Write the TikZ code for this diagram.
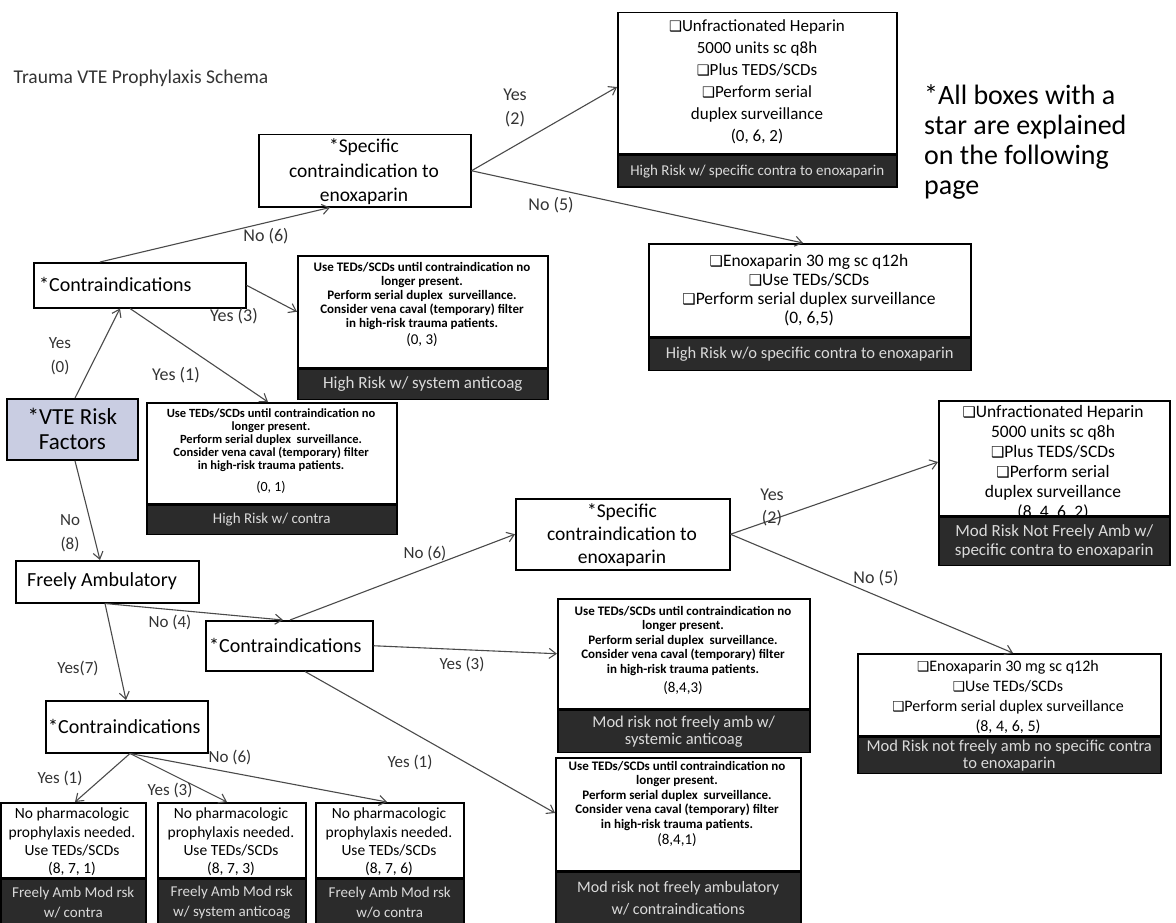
\documentclass[tikz,border=0pt]{standalone}
\usepackage{fontspec}
\setmainfont{Carlito}
\newfontfamily\symfont{DejaVu Sans}
\usetikzlibrary{arrows.meta,calc}
\definecolor{bandgray}{HTML}{2B2B2B}
\definecolor{bandtext}{HTML}{DADADA}
\definecolor{linegray}{HTML}{4A4A4A}
\definecolor{labelgray}{HTML}{333333}
\definecolor{vtefill}{HTML}{C9CDE2}
\newcommand{\cbx}{{\symfont\scalebox{0.85}{❑}}}
\tikzset{
  fs/.style args={#1/#2}{font=\fontsize{#1}{#2}\selectfont},
  panel/.style={draw=black, line width=1.5pt, fill=white, inner sep=0pt, anchor=north west},
  band/.style={draw=black, line width=1.5pt, fill=bandgray, text=bandtext, inner sep=0pt,
               align=center, anchor=north west},
  txt/.style={inner sep=0pt, align=center},
  bold/.style={txt, font=\bfseries\fontsize{13}{14}\selectfont},
  conn/.style={draw=linegray, line width=1.1pt,
               -{Straight Barb[length=7pt,width=10pt,line width=1.1pt]}},
  lbl/.style={txt, fs=17/24, text=labelgray},
}
\begin{document}
\begin{tikzpicture}[x=1pt,y=-1pt]
\useasboundingbox (0,0) rectangle (1176,923);

% heading and footnote
\node[txt, fs=19.5/23, text=labelgray] (title) at (141,78) {Trauma VTE Prophylaxis Schema};
\node[txt, fs=28/30, align=left, anchor=north west] (note) at (924,84)
  {*All boxes with a\\star are explained\\on the following\\page};

% ---------- high-risk branch ----------
\node[draw=black, line width=1.8pt, fill=vtefill, minimum width=131, minimum height=61,
      anchor=north west, inner sep=0pt, align=center, fs=23/25] (vte) at (6,398) {*VTE Risk\\Factors};

\node[panel, minimum width=212, minimum height=45] (contraA) at (33,262) {};
\node[txt, anchor=west, fs=20/22] (contraAt) at (39,284) {*Contraindications};

\node[panel, minimum width=212, minimum height=72] (specA) at (258,134) {};
\node[txt, fs=19.5/24.5] (specAt) at (364,172) {*Specific\\contraindication to\\enoxaparin};

\node[panel, minimum width=279, minimum height=141] (hrA) at (617,12) {};
\node[txt, fs=17/22] (hrAt) at (757,82)
  {\cbx Unfractionated Heparin\\5000 units sc q8h\\\cbx Plus TEDS/SCDs\\\cbx Perform serial\\duplex surveillance\\(0, 6, 2)};
\node[band, fs=15/17, minimum width=279, minimum height=32] (hrAb) at (hrA.south west)
  {High Risk w/ specific contra to enoxaparin};

\node[panel, minimum width=322, minimum height=93] (hrB) at (648,243) {};
\node[txt, fs=17.5/19] (hrBt) at (809,290)
  {\cbx Enoxaparin 30 mg sc q12h\\\cbx Use TEDs/SCDs\\\cbx Perform serial duplex surveillance\\(0, 6,5)};
\node[band, fs=16.5/18, minimum width=322, minimum height=32] (hrBb) at (hrB.south west)
  {High Risk w/o specific contra to enoxaparin};

\node[panel, minimum width=250, minimum height=112] (hrC) at (297,255) {};
\node[bold] (hrCt) at (422,296)
  {Use TEDs/SCDs until contraindication no\\longer present.\\Perform serial duplex\ \ surveillance.\\Consider vena caval (temporary) filter\\in high-risk trauma patients.};
\node[txt, fs=15/16] (hrCn) at (422,340) {(0, 3)};
\node[band, fs=17/18, minimum width=250, minimum height=30] (hrCb) at (hrC.south west)
  {High Risk w/ system anticoag};

\node[panel, minimum width=250, minimum height=101] (hrD) at (146,402) {};
\node[bold, font=\bfseries\fontsize{12.5}{13}\selectfont] (hrDt) at (271,440)
  {Use TEDs/SCDs until contraindication no\\longer present.\\Perform serial duplex\ \ surveillance.\\Consider vena caval (temporary) filter\\in high-risk trauma patients.};
\node[txt, fs=14/15] (hrDn) at (271,487) {(0, 1)};
\node[band, fs=15/17, minimum width=250, minimum height=29] (hrDb) at (hrD.south west)
  {High Risk w/ contra};

% ---------- moderate risk, not freely ambulatory ----------
\node[panel, minimum width=183, minimum height=42] (freely) at (15,560) {};
\node[txt, anchor=west, fs=20/22] (freelyt) at (27,581) {Freely Ambulatory};

\node[panel, minimum width=167, minimum height=50] (contraB) at (205,620) {};
\node[txt, anchor=west, fs=20/22] (contraBt) at (209,645) {*Contraindications};

\node[panel, minimum width=214, minimum height=71] (specB) at (515,498) {};
\node[txt, fs=19.5/23] (specBt) at (622,535) {*Specific\\contraindication to\\enoxaparin};

\node[panel, minimum width=231, minimum height=115] (mrA) at (938,400) {};
\node[txt, fs=17.5/20] (mrAt) at (1053,463)
  {\cbx Unfractionated Heparin\\5000 units sc q8h\\\cbx Plus TEDS/SCDs\\\cbx Perform serial\\duplex surveillance\\(8, 4, 6, 2)};
\node[band, fs=17/19, minimum width=231, minimum height=48] (mrAb) at (mrA.south west)
  {Mod Risk Not Freely Amb w/\\specific contra to enoxaparin};

\node[panel, minimum width=303, minimum height=82] (mrB) at (857,653) {};
\node[txt, fs=16/20.3] (mrBt) at (1008,697)
  {\cbx Enoxaparin 30 mg sc q12h\\\cbx Use TEDs/SCDs\\\cbx Perform serial duplex surveillance\\(8, 4, 6, 5)};
\node[band, fs=16.5/17, minimum width=303, minimum height=36] (mrBb) at (mrB.south west)
  {Mod Risk not freely amb no specific contra\\to enoxaparin};

\node[panel, minimum width=252, minimum height=110] (mrC) at (557,598) {};
\node[bold, font=\bfseries\fontsize{13}{14.5}\selectfont] (mrCt) at (683,641)
  {Use TEDs/SCDs until contraindication no\\longer present.\\Perform serial duplex\ \ surveillance.\\Consider vena caval (temporary) filter\\in high-risk trauma patients.};
\node[txt, fs=15/16] (mrCn) at (683,688) {(8,4,3)};
\node[band, fs=16.5/17, minimum width=252, minimum height=42] (mrCb) at (mrC.south west)
  {Mod risk not freely amb w/\\systemic anticoag};

\node[panel, minimum width=245, minimum height=113] (mrD) at (555,757) {};
\node[bold, font=\bfseries\fontsize{13}{14.5}\selectfont] (mrDt) at (677,796)
  {Use TEDs/SCDs until contraindication no\\longer present.\\Perform serial duplex\ \ surveillance.\\Consider vena caval (temporary) filter\\in high-risk trauma patients.};
\node[txt, fs=15/16] (mrDn) at (677,840) {(8,4,1)};
\node[band, fs=16/22, minimum width=245, minimum height=53] (mrDb) at (mrD.south west)
  {Mod risk not freely ambulatory\\w/ contraindications};

% ---------- freely ambulatory ----------
\node[panel, minimum width=162, minimum height=52] (contraC) at (45,700) {};
\node[txt, anchor=west, fs=20/22] (contraCt) at (48,726) {*Contraindications};

\node[panel, minimum width=145, minimum height=75] (faA) at (0,802) {};
\node[txt, fs=15.5/18.3] (faAt) at (72,842) {No pharmacologic\\prophylaxis needed.\\Use TEDs/SCDs\\(8, 7, 1)};
\node[band, fs=15/20, minimum width=145, minimum height=46] (faAb) at (faA.south west) {Freely Amb Mod rsk\\w/ contra};

\node[panel, minimum width=148, minimum height=75] (faB) at (157,802) {};
\node[txt, fs=15.5/18.3] (faBt) at (231,842) {No pharmacologic\\prophylaxis needed.\\Use TEDs/SCDs\\(8, 7, 3)};
\node[band, fs=15/20, minimum width=148, minimum height=46] (faBb) at (faB.south west) {Freely Amb Mod rsk\\w/ system anticoag};

\node[panel, minimum width=148, minimum height=75] (faC) at (315,802) {};
\node[txt, fs=15.5/18.3] (faCt) at (389,842) {No pharmacologic\\prophylaxis needed.\\Use TEDs/SCDs\\(8, 7, 6)};
\node[band, fs=15/20, minimum width=148, minimum height=46] (faCb) at (faC.south west) {Freely Amb Mod rsk\\w/o contra};

% ---------- connectors ----------
\draw[conn] ($(vte.north west)+(69,0)$) -- ($(contraA.south west)+(87,0)$);
\draw[conn] ($(vte.south west)+(69,0)$) -- ($(freely.north west)+(85,0)$);
\draw[conn] ($(contraA.north west)+(67,0)$) -- ($(specA.south west)+(72,0)$);
\draw[conn] (contraA.east) -- (hrC.west);
\draw[conn] ($(contraA.south west)+(97,0)$) -- ($(hrD.north west)+(122,0)$);
\draw[conn] (specA.east) -- ($(hrA.north west)+(0,75)$);
\draw[conn] (specA.east) -- ($(hrB.north west)+(155,0)$);

\draw[conn] ($(freely.south west)+(90,0)$) -- ($(contraB.north west)+(78,0)$);
\draw[conn] ($(freely.south west)+(90,0)$) -- ($(contraC.north west)+(81,0)$);
\draw[conn] ($(contraB.north west)+(85,0)$) -- (specB.west);
\draw[conn] (contraB.east) -- (mrC.west);
\draw[conn] ($(contraB.south west)+(100,0)$) -- ($(mrD.north west)+(0,56)$);
\draw[conn] (specB.east) -- ($(mrA.north west)+(0,62)$);
\draw[conn] (specB.east) -- ($(mrB.north west)+(156,0)$);

\draw[conn] ($(contraC.south west)+(85,0)$) -- ($(faA.north west)+(75,0)$);
\draw[conn] ($(contraC.south west)+(85,0)$) -- ($(faB.north west)+(70,0)$);
\draw[conn] ($(contraC.south west)+(85,0)$) -- ($(faC.north west)+(72,0)$);

% ---------- branch labels ----------
\node[lbl] (lYes0) at (60,356) {Yes\\(0)};
\node[lbl] (lNo8) at (70,533) {No\\(8)};
\node[lbl, fs=18/20] (lNo6a) at (266,236) {No (6)};
\node[lbl, fs=18/20] (lYes3a) at (234,316) {Yes (3)};
\node[lbl, fs=18/20] (lYes1a) at (176,375) {Yes (1)};
\node[lbl, fs=18/24] (lYes2a) at (515,108) {Yes\\(2)};
\node[lbl, fs=18/20] (lNo5a) at (551,205) {No (5)};
\node[lbl] (lNo4) at (170,622) {No (4)};
\node[lbl] (lYes7) at (78,668) {Yes(7)};
\node[lbl] (lNo6b) at (425,553) {No (6)};
\node[lbl] (lYes3b) at (462,664) {Yes (3)};
\node[lbl] (lYes1b) at (410,762) {Yes (1)};
\node[lbl, fs=18/23] (lYes2b) at (772,507) {Yes\\(2)};
\node[lbl, fs=18/20] (lNo5b) at (876,578) {No (5)};
\node[lbl] (lNo6c) at (230,757) {No (6)};
\node[lbl] (lYes1c) at (60,778) {Yes (1)};
\node[lbl] (lYes3c) at (170,790) {Yes (3)};
\end{tikzpicture}
\end{document}
